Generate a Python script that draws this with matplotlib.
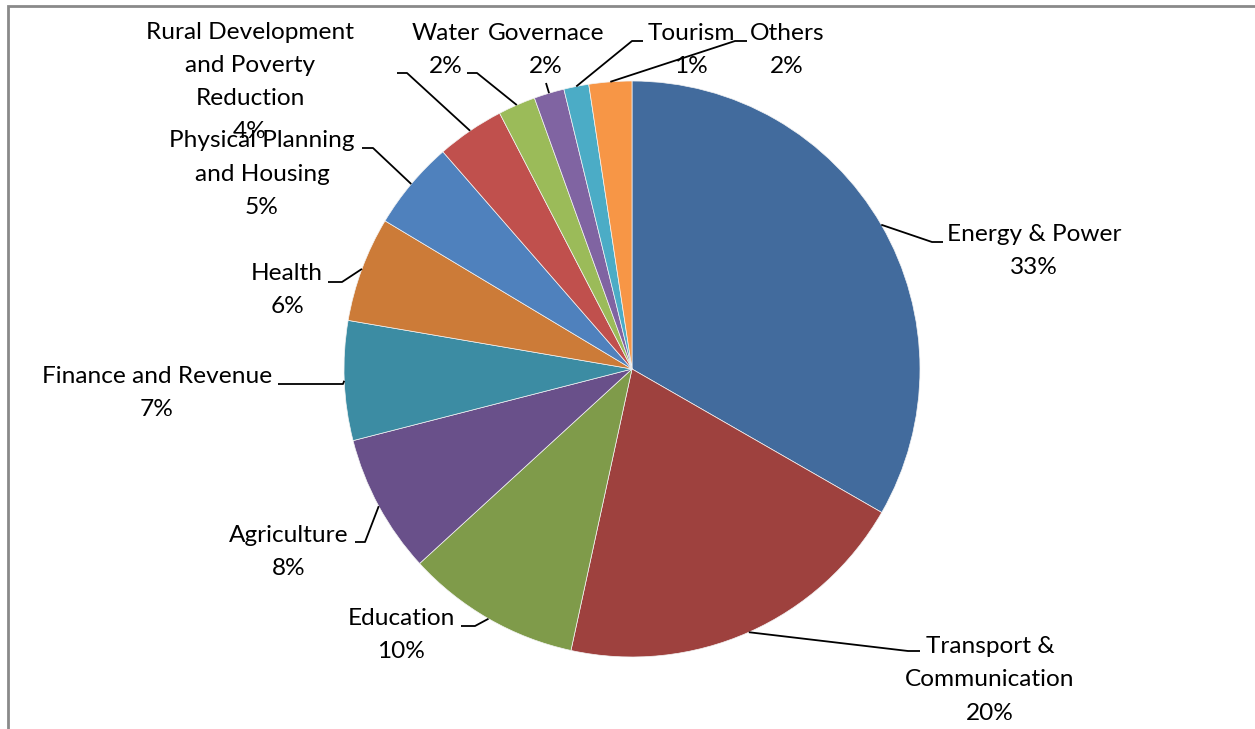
import matplotlib
matplotlib.use('Agg')
import matplotlib.pyplot as plt
from matplotlib.patches import Rectangle
import numpy as np

# sector shares of the programme (percent)
sectors = ["Energy & Power", "Transport &\nCommunication", "Education", "Agriculture",
           "Finance and Revenue", "Health", "Physical Planning\nand Housing",
           "Rural Development\nand Poverty\nReduction", "Water", "Governace",
           "Tourism", "Others"]
shares = [33.3, 20.1, 9.8, 7.8, 6.7, 5.9, 5.0, 3.8, 2.1, 1.7, 1.4, 2.4]
colours = ["#426B9D", "#9E413E", "#7F9B4A", "#69508A", "#3C8CA3", "#CC7B38",
           "#4F81BD", "#C0504D", "#9BBB59", "#8064A2", "#4BACC6", "#F79646"]

W, H = 1255, 729

def px(x, y):
    # image pixels (origin top left) -> axes units
    return x, H - y

# label block centres and leader bends, in pixels from the top left
label_pos = [(1034, 251), (990, 680), (401, 635), (289, 552), (157, 393), (287, 290),
             (262, 174), (250, 82), (446, 50), (546, 50), (691, 50), (787, 50)]
leader_pts = [[(932, 242), (943, 242)],
              [(908, 651), (920, 651)],
              [(475, 626), (461, 626)],
              [(365, 542), (355, 542)],
              [(343, 384), (278, 384)],
              [(342, 282), (328, 282)],
              [(373, 148), (362, 148)],
              [(407, 73), (397, 73)],
              [(477, 73), (467, 73)],
              [(546, 83)],
              [(632, 41), (643, 41)],
              [(735, 41), (747, 41)]]

fig = plt.figure(figsize=(W / 100, H / 100), dpi=100)
ax = fig.add_axes([0, 0, 1, 1])

cx, cy = px(632, 369)
R = 288
wedges, _ = ax.pie(shares, colors=colours, startangle=90, counterclock=False,
                   center=(cx, cy), radius=R,
                   wedgeprops=dict(edgecolor="#f4f4f4", linewidth=0.5))

for w, name, val, pos, pts in zip(wedges, sectors, shares, label_pos, leader_pts):
    mid = np.deg2rad((w.theta1 + w.theta2) / 2)
    xs = [cx + R * np.cos(mid)] + [px(*p)[0] for p in pts]
    ys = [cy + R * np.sin(mid)] + [px(*p)[1] for p in pts]
    ax.plot(xs, ys, color="black", lw=1.3, solid_capstyle="butt")
    tx, ty = px(*pos)
    ax.text(tx, ty, f"{name}\n{val:.0f}%", ha="center", va="center",
            multialignment="center", fontsize=17.6, family="Lato",
            linespacing=1.72, color="black")

ax.set_xlim(0, W)
ax.set_ylim(0, H)
ax.set_aspect("auto")
ax.axis("off")

# chart area border, running past the right and bottom edges
x0, y0 = px(7.7, 5.8)
ax.add_patch(Rectangle((x0, -20), W + 40, y0 + 20, fill=False,
                       edgecolor="#8a8a8a", lw=2, clip_on=False))

fig.savefig("out.png", dpi=100)
